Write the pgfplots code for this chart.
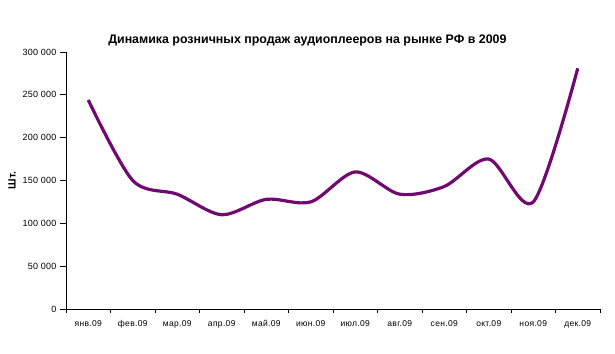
\documentclass[border=0pt]{standalone}
\usepackage{fontspec}
\setmainfont{Liberation Sans}
\usepackage{pgfplots}
\pgfplotsset{compat=1.18}
\definecolor{curve}{RGB}{112,10,112}
\begin{document}
\begin{tikzpicture}
\path[use as bounding box] (0,0) rectangle (615pt,353pt);
\begin{axis}[
  at={(66pt,44pt)}, anchor=south west,
  scale only axis, width=534pt, height=257pt,
  xmin=-0.5, xmax=11.5, ymin=0, ymax=300000,
  axis lines*=left,
  axis line style={black, line width=0.8pt},
  xtick={0,...,11},
  xticklabels={янв.09,фев.09,мар.09,апр.09,май.09,июн.09,июл.09,авг.09,сен.09,окт.09,ноя.09,дек.09},
  minor xtick={-0.5,0.5,...,11.5},
  major x tick style={draw=none},
  minor x tick style={black, line width=0.8pt},
  ytick={0,50000,100000,150000,200000,250000,300000},
  yticklabels={0,50 000,100 000,150 000,200 000,250 000,300 000},
  ytick style={black, line width=0.8pt},
  tick align=outside,
  major tick length=6pt, minor tick length=4pt,
  scaled y ticks=false,
  yticklabel style={font=\fontsize{9}{10}\selectfont\addfontfeature{LetterSpace=3}},
  xticklabel style={font=\fontsize{8.5}{10}\selectfont\addfontfeature{LetterSpace=4}, yshift=-2pt},
  title={\textbf{Динамика розничных продаж аудиоплееров на рынке РФ в 2009}},
  title style={font=\fontsize{12.4}{14}\selectfont, at={(0.452,1)}, anchor=center, yshift=6pt},
  clip=false,
]
\addplot[curve, line width=3.2pt, smooth, tension=0.5] coordinates {
  (0,244000) (1,150000) (2,134000) (3,110000) (4,128000) (5,125000)
  (6,160000) (7,134000) (8,143000) (9,175000) (10,125000) (11,281000)
};
\node[rotate=90, font=\fontsize{10.5}{12}\selectfont\bfseries, anchor=center] at (rel axis cs:-0.101,0.5) {Шт.};
\end{axis}
\end{tikzpicture}
\end{document}
